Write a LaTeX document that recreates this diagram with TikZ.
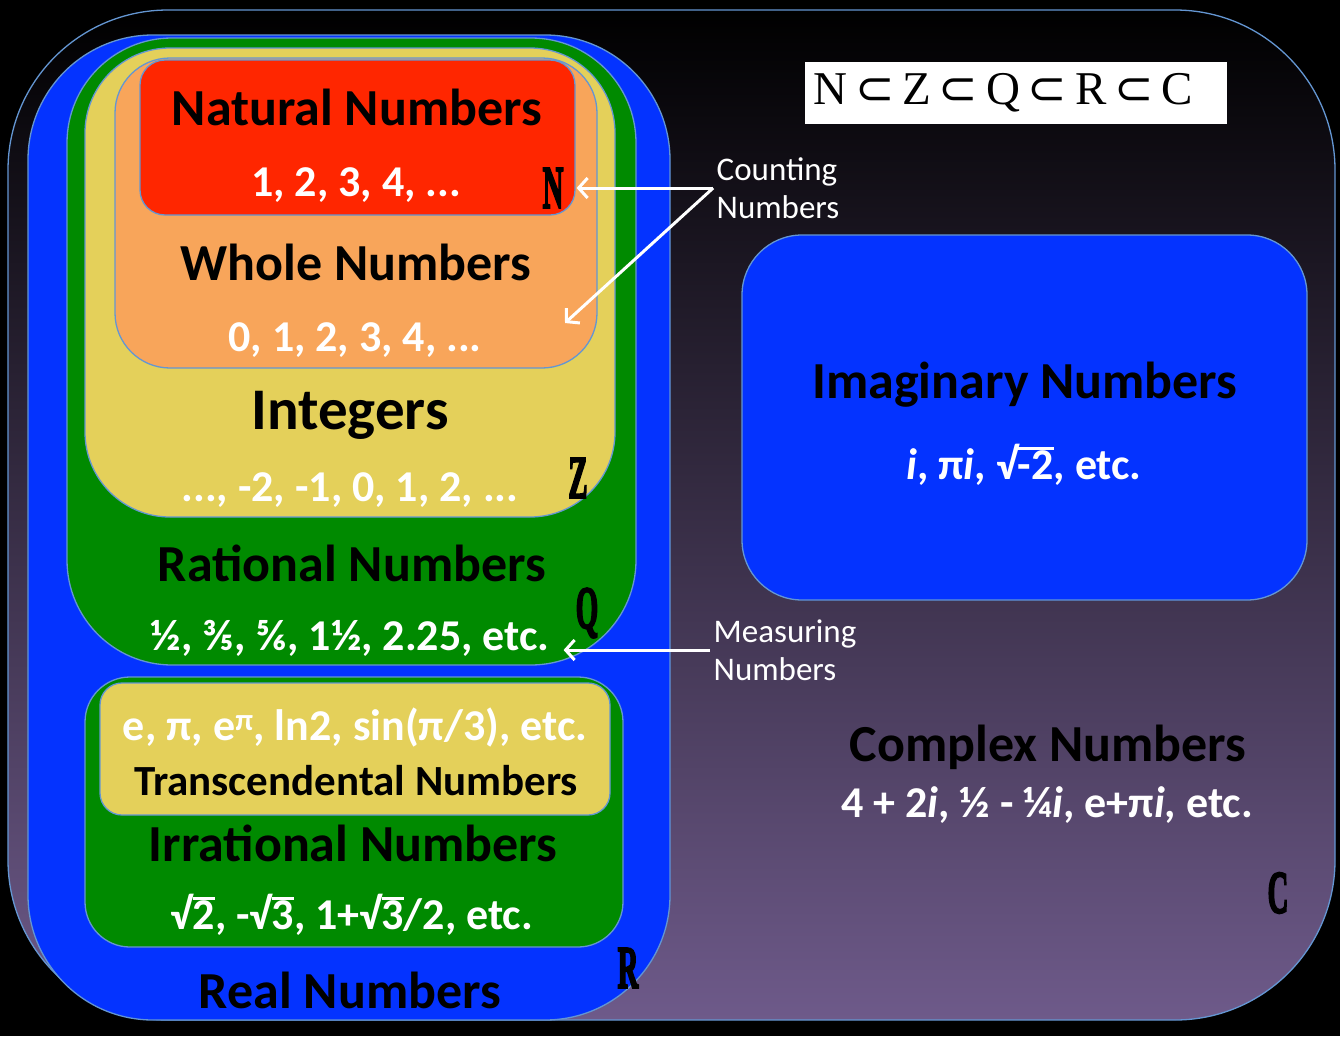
\documentclass[tikz,border=0pt]{standalone}
\usepackage{fontspec}
\setmainfont{Carlito}
\newfontfamily\letterfont{Liberation Serif}[BoldFeatures={FakeBold=4}]
\newfontfamily\chainfont{Liberation Serif}
\newfontfamily\relfont{DejaVu Sans}
\usepackage{graphicx}
\usetikzlibrary{positioning, arrows.meta}

\definecolor{realblue}{RGB}{4,51,255}
\definecolor{ratgreen}{RGB}{0,138,0}
\definecolor{intyellow}{RGB}{228,208,90}
\definecolor{wholeorange}{RGB}{248,165,90}
\definecolor{natred}{RGB}{255,38,0}
\definecolor{edgeblue}{RGB}{100,150,210}
\definecolor{cplxpurple}{RGB}{110,90,138}

\newcommand{\setletter}[1]{\scalebox{0.48}[1]{\letterfont\bfseries\fontsize{60}{60}\selectfont #1}}
\newcommand{\sqbar}[1]{\mbox{√\sbox0{#1}\rlap{\rule[0.68em]{\wd0}{0.06em}}\usebox0}}
\newcommand{\sub}{\,{\relfont ⊂}\,}

\begin{document}
\begin{tikzpicture}[
    x=1pt, y=-1pt,
    numbox/.style={draw=edgeblue, line width=1.3pt, inner sep=0pt},
    title/.style={font=\bfseries\fontsize{52}{56}\selectfont, text=black},
    vals/.style={font=\bfseries\fontsize{44}{48}\selectfont, text=white, inner sep=3pt},
    note/.style={font=\fontsize{33}{38}\selectfont, text=white, align=left},
    letter/.style={inner sep=0pt, text=black},
    pointer/.style={draw=white, line width=3pt, -{Straight Barb[length=9pt, width=20pt]}}
]

\useasboundingbox (0,0) rectangle (1340,1036);
\fill[black] (0,0) rectangle (1340,1036);

% Complex numbers
\node[numbox, top color=black, bottom color=cplxpurple, rounded corners=160pt,
    minimum width=1327pt, minimum height=1010pt] (cplxbox) at (671.5,515) {};

% Real numbers
\node[numbox, fill=realblue, rounded corners=125pt,
    minimum width=642pt, minimum height=985pt] (realbox) at (349,527.5) {};

% Rational numbers
\node[numbox, fill=ratgreen, rounded corners=105pt,
    minimum width=569pt, minimum height=627pt] (ratbox) at (351.5,351.5) {};

% Integers
\node[numbox, fill=intyellow, rounded corners=85pt,
    minimum width=530pt, minimum height=469pt] (intbox) at (350,282.5) {};

% Whole numbers
\node[numbox, fill=wholeorange, rounded corners=55pt,
    minimum width=482pt, minimum height=310pt] (wholebox) at (356,213) {};

% Natural numbers
\node[numbox, fill=natred, rounded corners=25pt,
    minimum width=435pt, minimum height=155pt] (natbox) at (357.5,137.5) {};

% Irrational numbers
\node[numbox, fill=ratgreen, rounded corners=45pt,
    minimum width=538pt, minimum height=270pt] (irrbox) at (354,812) {};

% Transcendental numbers
\node[numbox, fill=intyellow, rounded corners=22pt,
    minimum width=510pt, minimum height=132pt] (transbox) at (355,749) {};

% Imaginary numbers
\node[numbox, fill=realblue, rounded corners=60pt,
    minimum width=565pt, minimum height=365pt] (imagbox) at (1024.5,417.5) {};

% Subset chain
\node[fill=white, minimum width=422pt, minimum height=62pt] (chainbox) at (1016,93) {};
\node[font=\chainfont\fontsize{47}{47}\selectfont, text=black] (chain) at (1003,93)
    {N\sub Z\sub Q\sub R\sub C};

% Labels
\node[title] (natname) at (357,107) {Natural Numbers};
\node[vals] (natvals) at (356,185) {1, 2, 3, 4, ...};
\node[letter] (nletter) at (553,188) {\setletter{N}};

\node[title] (wholename) at (356,262) {Whole Numbers};
\node[vals] (wholevals) at (355,340) {0, 1, 2, 3, 4, ...};

\node[title, font=\bfseries\fontsize{59}{62}\selectfont] (intname) at (350,415) {Integers};
\node[vals] (intvals) at (350,490) {..., -2, -1, 0, 1, 2, ...};
\node[letter] (zletter) at (578,478) {\setletter{Z}};

\node[title] (ratname) at (352,563) {Rational Numbers};
\node[vals] (ratvals) at (350,638) {½, ⅗, ⅚, 1½, 2.25, etc.};
\node[letter] (qletter) at (587,613) {\setletter{Q}};

\node[vals] (transvals) at (355,727) {e, π, e\textsuperscript{π}, ln2, sin(π/3), etc.};
\node[title, font=\bfseries\fontsize{43}{46}\selectfont] (transname) at (356,781) {Transcendental Numbers};

\node[title] (irrname) at (353,843) {Irrational Numbers};
\node[vals] (irrvals) at (352,915) {\sqbar{2}, -\sqbar{3}, 1+\sqbar{3}/2, etc.};
\node[letter] (rletter) at (628,968) {\setletter{R}};

\node[title] (realname) at (350,990) {Real Numbers};

\node[title] (imagname) at (1025,385) {Imaginary Numbers};
\node[vals] (imagvals) at (1024,465) {\textit{i}, π\textit{i}, \sqbar{-2}, etc.};

\node[title] (cplxname) at (1048,747) {Complex Numbers};
\node[vals] (cplxvals) at (1047,805) {4 + 2\textit{i}, ½ - ¼\textit{i}, e+π\textit{i}, etc.};
\node[letter] (cletter) at (1278,893) {\setletter{C}};

% Side notes
\node[note] (counting) at (778,188) {Counting\\Numbers};
\node[note] (measuring) at (785,650) {Measuring\\Numbers};

\coordinate (wholetip) at (565,323);
\draw[pointer, shorten >=13pt] (counting.west) -- (nletter.east);
\draw[pointer] (counting.west) -- (wholetip);
\draw[pointer, shorten >=11pt] (measuring.west) -- (measuring.west -| ratvals.east);

\end{tikzpicture}
\end{document}
